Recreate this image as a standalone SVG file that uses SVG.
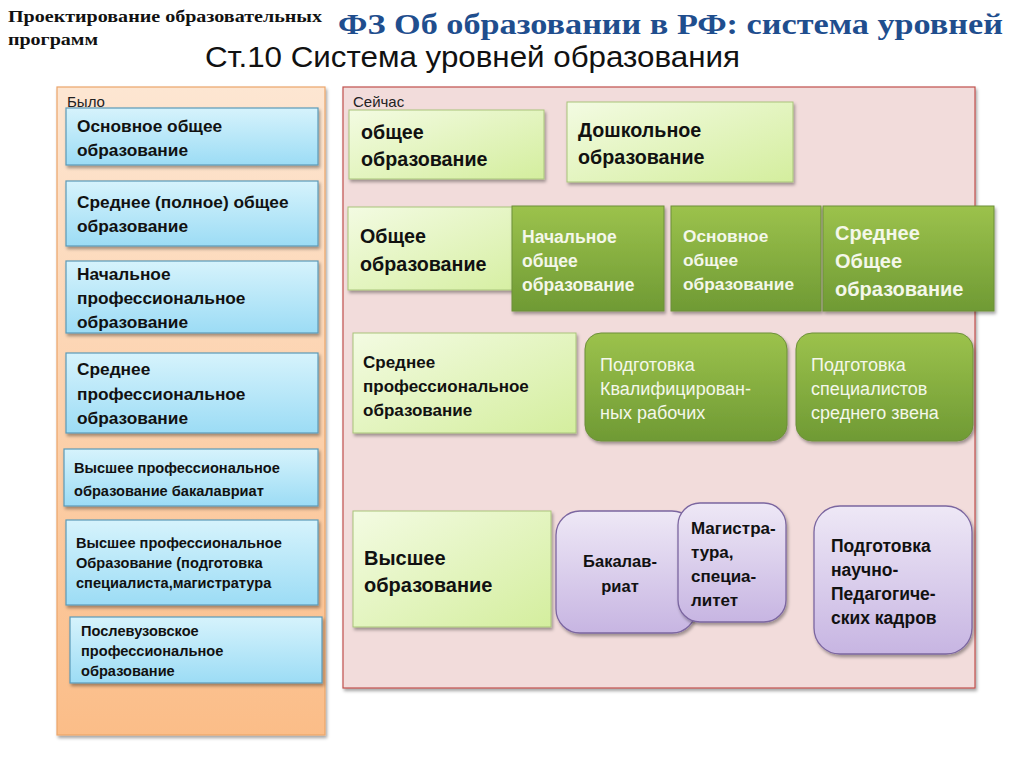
<svg xmlns="http://www.w3.org/2000/svg" width="1024" height="767" viewBox="0 0 1024 767">
<defs>
<linearGradient id="gPeach" x1="0" y1="0" x2="0" y2="1"><stop offset="0" stop-color="#fde6d2"/><stop offset="1" stop-color="#fbbd88"/></linearGradient>
<linearGradient id="gBlue" x1="0" y1="0" x2="0" y2="1"><stop offset="0" stop-color="#d6f3fc"/><stop offset="1" stop-color="#9cdcf5"/></linearGradient>
<linearGradient id="gLight" x1="0" y1="0" x2="1" y2="1"><stop offset="0" stop-color="#f3fbe2"/><stop offset="1" stop-color="#d4ee9e"/></linearGradient>
<linearGradient id="gDark" x1="0" y1="0" x2="0" y2="1"><stop offset="0" stop-color="#9cc24c"/><stop offset="1" stop-color="#6f9a34"/></linearGradient>
<linearGradient id="gPurple" x1="0" y1="0" x2="0" y2="1"><stop offset="0" stop-color="#eee8f6"/><stop offset="1" stop-color="#c7b5e2"/></linearGradient>
<filter id="sh" x="-10%" y="-10%" width="125%" height="130%"><feDropShadow dx="1.5" dy="2.5" stdDeviation="1.8" flood-color="#000" flood-opacity="0.35"/></filter>
</defs>
<style>
.t{font-family:"Liberation Sans",Arial,sans-serif;}
.b{font-weight:bold;}
.blue{fill:url(#gBlue);stroke:#5a9ab8;stroke-width:1.2;filter:url(#sh);}
.light{fill:url(#gLight);stroke:#a9c47a;stroke-width:1;filter:url(#sh);}
.dark{fill:url(#gDark);stroke:#6d8f3a;stroke-width:1;filter:url(#sh);}
.purple{fill:url(#gPurple);stroke:#7b66a0;stroke-width:1.3;filter:url(#sh);}
.k{fill:#111;}
.w{fill:#f4f7ea;}
</style>
<rect width="1024" height="767" fill="#ffffff"/>

<g id="header">
<text x="8" y="22" font-family="Liberation Serif,serif" font-weight="bold" font-size="17" fill="#111" textLength="314" lengthAdjust="spacingAndGlyphs">Проектирование образовательных</text>
<text x="8" y="45" font-family="Liberation Serif,serif" font-weight="bold" font-size="17" fill="#111" textLength="90" lengthAdjust="spacingAndGlyphs">программ</text>
<text x="338" y="34" font-family="Liberation Serif,serif" font-weight="bold" font-size="30" fill="#1f4e8e" textLength="665" lengthAdjust="spacingAndGlyphs">ФЗ Об образовании в РФ: система уровней</text>
<text x="205" y="67" class="t" font-size="29" fill="#111" textLength="535" lengthAdjust="spacingAndGlyphs">Ст.10  Система уровней образования</text>
</g>

<g id="panel-bylo">
<rect x="57" y="87" width="268" height="648" fill="url(#gPeach)" stroke="#eba56a" stroke-width="1.2" filter="url(#sh)"/>
<text x="67" y="107" class="t" font-size="15" fill="#222">Было</text>
</g>

<g id="b1"><rect x="66" y="108" width="252" height="57" class="blue"/>
<text class="t b k" font-size="17.3"><tspan x="77" y="132">Основное общее</tspan><tspan x="77" y="156">образование</tspan></text></g>
<g id="b2"><rect x="66" y="181" width="252" height="65" class="blue"/>
<text class="t b k" font-size="17.3"><tspan x="77" y="208">Среднее (полное) общее</tspan><tspan x="77" y="232">образование</tspan></text></g>
<g id="b3"><rect x="66" y="261" width="252" height="72" class="blue"/>
<text class="t b k" font-size="17.3"><tspan x="77" y="280">Начальное</tspan><tspan x="77" y="304">профессиональное</tspan><tspan x="77" y="328">образование</tspan></text></g>
<g id="b4"><rect x="66" y="353" width="252" height="80" class="blue"/>
<text class="t b k" font-size="17.3"><tspan x="77" y="375">Среднее</tspan><tspan x="77" y="400">профессиональное</tspan><tspan x="77" y="424">образование</tspan></text></g>
<g id="b5"><rect x="64" y="449" width="254" height="57" class="blue"/>
<text class="t b k" font-size="14.6"><tspan x="74" y="473">Высшее профессиональное</tspan><tspan x="74" y="496">образование бакалавриат</tspan></text></g>
<g id="b6"><rect x="66" y="520" width="252" height="85" class="blue"/>
<text class="t b k" font-size="14.6"><tspan x="76" y="548">Высшее профессиональное</tspan><tspan x="76" y="568">Образование (подготовка</tspan><tspan x="76" y="588">специалиста,магистратура</tspan></text></g>
<g id="b7"><rect x="70" y="617" width="252" height="66" class="blue"/>
<text class="t b k" font-size="14.6"><tspan x="81" y="636">Послевузовское</tspan><tspan x="81" y="656">профессиональное</tspan><tspan x="81" y="676">образование</tspan></text></g>

<g id="panel-seychas">
<rect x="343" y="87" width="632" height="601" fill="#f2dcdb" stroke="#c0504d" stroke-width="1.2" filter="url(#sh)"/>
<text x="353" y="107" class="t" font-size="15" fill="#222">Сейчас</text>
</g>

<g id="n-obshee1"><rect x="349" y="110" width="195" height="69" class="light"/>
<text class="t b k" font-size="19.7"><tspan x="361" y="139">общее</tspan><tspan x="361" y="166">образование</tspan></text></g>
<g id="n-doshk"><rect x="567" y="102" width="226" height="80" class="light"/>
<text class="t b k" font-size="19.7"><tspan x="578" y="137">Дошкольное</tspan><tspan x="578" y="164">образование</tspan></text></g>

<g id="n-obshee2"><rect x="348" y="207" width="194" height="83" class="light"/>
<text class="t b k" font-size="19.7"><tspan x="360" y="243">Общее</tspan><tspan x="360" y="271">образование</tspan></text></g>
<g id="n-nach"><rect x="512" y="206" width="152" height="105" class="dark"/>
<text class="t b w" font-size="17.5"><tspan x="522" y="243">Начальное</tspan><tspan x="522" y="267">общее</tspan><tspan x="522" y="291">образование</tspan></text></g>
<g id="n-osn"><rect x="671" y="206" width="150" height="105" class="dark"/>
<text class="t b w" font-size="17.3"><tspan x="683" y="242">Основное</tspan><tspan x="683" y="266">общее</tspan><tspan x="683" y="290">образование</tspan></text></g>
<g id="n-sred"><rect x="823" y="206" width="171" height="105" class="dark"/>
<text class="t b w" font-size="20"><tspan x="835" y="240">Среднее</tspan><tspan x="835" y="268">Общее</tspan><tspan x="835" y="296">образование</tspan></text></g>

<g id="n-spo"><rect x="353" y="333" width="223" height="100" class="light"/>
<text class="t b k" font-size="17"><tspan x="363" y="368">Среднее</tspan><tspan x="363" y="392">профессиональное</tspan><tspan x="363" y="416">образование</tspan></text></g>
<g id="n-kval"><rect x="585" y="333" width="202" height="108" rx="16" class="dark"/>
<text class="t w" font-size="18"><tspan x="600" y="371">Подготовка</tspan><tspan x="600" y="395">Квалифицирован-</tspan><tspan x="600" y="419">ных рабочих</tspan></text></g>
<g id="n-ssz"><rect x="796" y="333" width="177" height="108" rx="16" class="dark"/>
<text class="t w" font-size="18"><tspan x="811" y="371">Подготовка</tspan><tspan x="811" y="395">специалистов</tspan><tspan x="811" y="419">среднего звена</tspan></text></g>

<g id="n-vo"><rect x="353" y="511" width="198" height="116" class="light"/>
<text class="t b k" font-size="20"><tspan x="364" y="565">Высшее</tspan><tspan x="364" y="592">образование</tspan></text></g>
<g id="n-bak"><rect x="556" y="511" width="140" height="122" rx="24" class="purple"/>
<text class="t b k" font-size="16.5" text-anchor="middle"><tspan x="620" y="567">Бакалав-</tspan><tspan x="620" y="592">риат</tspan></text></g>
<g id="n-mag"><rect x="678" y="503" width="108" height="119" rx="22" class="purple"/>
<text class="t b k" font-size="17"><tspan x="691" y="534">Магистра-</tspan><tspan x="691" y="558">тура,</tspan><tspan x="691" y="582">специа-</tspan><tspan x="691" y="606">литет</tspan></text></g>
<g id="n-npk"><rect x="814" y="506" width="158" height="148" rx="26" class="purple"/>
<text class="t b k" font-size="17.5"><tspan x="831" y="552">Подготовка</tspan><tspan x="831" y="576">научно-</tspan><tspan x="831" y="600">Педагогиче-</tspan><tspan x="831" y="624">ских кадров</tspan></text></g>

<g id="connectors"></g>
</svg>
